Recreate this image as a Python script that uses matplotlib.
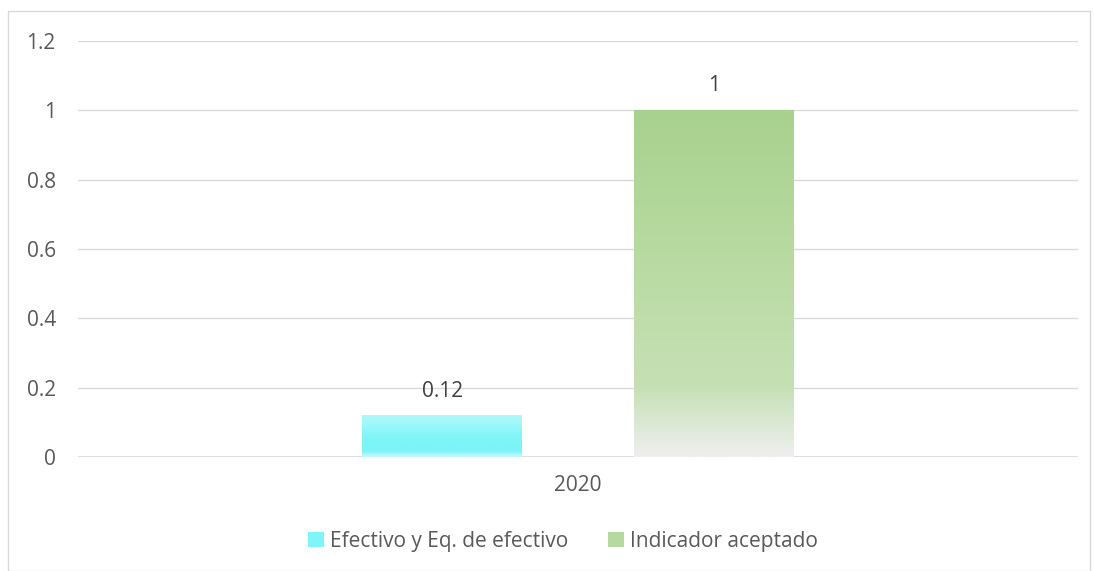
import numpy as np
import matplotlib
matplotlib.use("Agg")
import matplotlib.pyplot as plt
from matplotlib.patches import Rectangle
from matplotlib.colors import LinearSegmentedColormap

categories = ["2020"]
series_names = ["Efectivo y Eq. de efectivo", "Indicador aceptado"]
series_values = [[0.12], [1.0]]
value_labels = ["0.12", "1"]
yticks = [0, 0.2, 0.4, 0.6, 0.8, 1.0, 1.2]
ytick_labels = ["0", "0.2", "0.4", "0.6", "0.8", "1", "1.2"]

plt.rcParams['font.family'] = ['Open Sans', 'DejaVu Sans']
txt = "#595959"
fs = 15

fig = plt.figure(figsize=(10.94, 5.71), dpi=100)
# outer border
fig.add_artist(Rectangle((8/1094, 0.0), (1090-8)/1094, 1 - 11/571, transform=fig.transFigure,
                         fill=False, edgecolor="#d9d9d9", linewidth=1))

ax = fig.add_axes([78/1094, 1-457/571, 1000/1094, (457-41)/571])
ax.set_xlim(-0.5, 0.5)
ax.set_ylim(0, 1.2)
for s in ax.spines.values():
    s.set_visible(False)
ax.set_yticks(yticks)
ax.set_yticklabels(ytick_labels, color=txt, fontsize=fs)
ax.tick_params(axis='y', length=0, pad=16)
ax.set_xticks([0])
ax.set_xticklabels(categories, color=txt, fontsize=fs)
ax.tick_params(axis='x', length=0, pad=13)
ax.grid(axis='y', color="#d9d9d9", linewidth=1)
ax.set_axisbelow(True)
ax.axhline(0, color="#d9d9d9", linewidth=1.2, zorder=1)

cyan_cmap = LinearSegmentedColormap.from_list("c", [(0, "#b0f9fa"), (0.55, "#7ff5f8"), (0.85, "#7af4f8"), (1.0, "#c8fafa")])
green_cmap = LinearSegmentedColormap.from_list("g", [(0, "#a9d18e"), (0.45, "#b9dba3"), (0.8, "#c6e0b5"), (1.0, "#efefef")])
cmaps = [cyan_cmap, green_cmap]

width = 0.16
offsets = [-0.1357, 0.1357]
grad = np.linspace(0, 1, 256).reshape(-1, 1)
for i, (vals, cm) in enumerate(zip(series_values, cmaps)):
    bars = ax.bar(np.arange(len(categories)) + offsets[i], vals, width=width, color="none", zorder=2)
    for b, v in zip(bars, vals):
        x0 = b.get_x()
        im = ax.imshow(grad, cmap=cm, aspect='auto', extent=[x0, x0 + width, 0, v],
                       origin='upper', zorder=2)
        im.set_clip_path(b)
        ax.text(x0 + width/2, v + 0.04, value_labels[i], ha='center', va='bottom',
                color="#404040", fontsize=fs)
ax.set_xlim(-0.5, 0.5)
ax.set_ylim(0, 1.2)

# legend
handles = [Rectangle((0, 0), 1, 1, facecolor="#7ff5f8", edgecolor='none'),
           Rectangle((0, 0), 1, 1, facecolor="#b5d99f", edgecolor='none')]
fig.legend(handles, series_names, loc='center', bbox_to_anchor=(563/1094, 1-541/571),
           ncol=2, frameon=False, fontsize=fs, labelcolor=txt, handlelength=0.75,
           handleheight=0.75, handletextpad=0.3, columnspacing=1.9)

fig.savefig("out.png", dpi=100)
